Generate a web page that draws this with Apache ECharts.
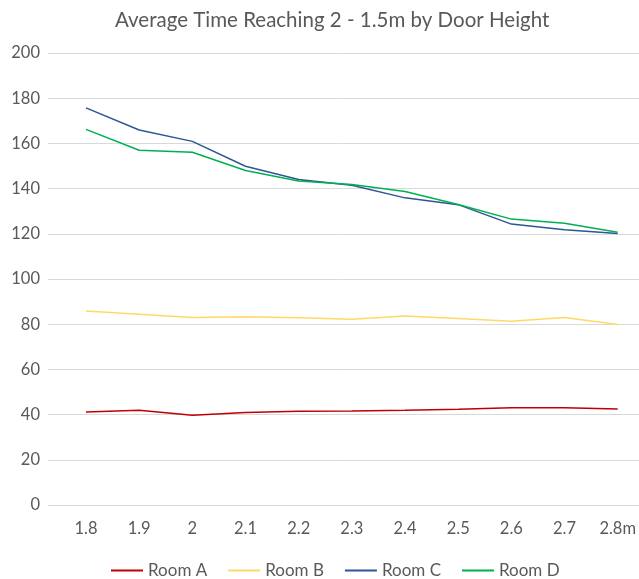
<!DOCTYPE html>
<html><head><meta charset="utf-8">
<script src="https://cdn.jsdelivr.net/npm/echarts@6/dist/echarts.min.js"></script>
<style>html,body{margin:0;padding:0;background:#fff}#c{width:639px;height:579px}</style>
</head><body><div id="c"></div>
<script>
const categories = ['1.8','1.9','2','2.1','2.2','2.3','2.4','2.5','2.6','2.7','2.8m'];
const roomA = [41.2, 41.9, 39.7, 40.9, 41.5, 41.6, 41.9, 42.4, 43.0, 43.0, 42.5];
const roomB = [85.8, 84.4, 83.0, 83.3, 82.8, 82.2, 83.6, 82.5, 81.3, 83.0, 79.9];
const roomC = [175.7, 165.9, 160.9, 149.9, 144.0, 141.5, 135.9, 132.9, 124.3, 121.8, 120.1];
const roomD = [166.2, 157.0, 156.1, 148.0, 143.4, 141.8, 138.7, 133.0, 126.5, 124.7, 120.7];
const yTicks = {min: 0, max: 200, interval: 20};

const font = 'Lato';
const grey = '#595959';
const mk = (name, data, color) => ({
  name, type: 'line', data, xAxisIndex: 1, yAxisIndex: 1,
  symbol: 'none', lineStyle: {color, width: 1.5}, itemStyle: {color}
});
const chart = echarts.init(document.getElementById('c'));
chart.setOption({
  animation: false,
  title: {text: 'Average Time Reaching 2 - 1.5m by Door Height', left: 110, top: 5,
    textStyle: {fontFamily: font, fontSize: 20.5, fontWeight: 'normal', color: grey}},
  legend: {left: 106, top: 557, itemWidth: 32, itemHeight: 2, itemGap: 21, icon: 'rect',
    textStyle: {fontFamily: font, fontSize: 17, color: grey},
    data: ['Room A','Room B','Room C','Room D']},
  grid: [
    {left: 48, right: 0, top: 53, bottom: 74},
    {left: 86, right: 17, top: 53, bottom: 74}
  ],
  xAxis: [
    {type: 'category', gridIndex: 0, data: categories, boundaryGap: false,
      axisLine: {lineStyle: {color: '#d9d9d9'}}, axisTick: {show: false}, axisLabel: {show: false}},
    {type: 'category', gridIndex: 1, data: categories, boundaryGap: false,
      axisLine: {show: false}, axisTick: {show: false},
      axisLabel: {fontFamily: font, fontSize: 16.5, color: grey, margin: 15, interval: 0}}
  ],
  yAxis: [
    {type: 'value', gridIndex: 0, min: yTicks.min, max: yTicks.max, interval: yTicks.interval,
      axisLine: {show: false}, axisTick: {show: false},
      axisLabel: {fontFamily: font, fontSize: 16.5, color: grey, margin: 8},
      splitLine: {lineStyle: {color: '#d9d9d9', width: 1}}},
    {type: 'value', gridIndex: 1, min: yTicks.min, max: yTicks.max, interval: yTicks.interval,
      axisLine: {show: false}, axisTick: {show: false}, axisLabel: {show: false}, splitLine: {show: false}}
  ],
  series: [
    mk('Room A', roomA, '#C00000'),
    mk('Room B', roomB, '#FFD966'),
    mk('Room C', roomC, '#2F5597'),
    mk('Room D', roomD, '#00B050')
  ]
});
</script></body></html>
